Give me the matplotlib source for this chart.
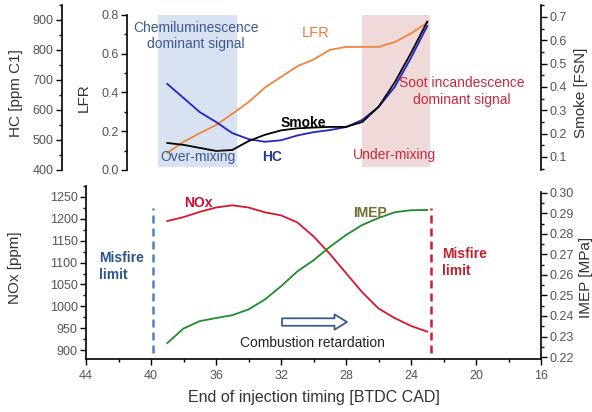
import matplotlib.pyplot as plt
from matplotlib.ticker import MultipleLocator, FormatStrFormatter

plt.rcParams['font.family'] = ['Liberation Sans', 'DejaVu Sans']

# end of injection timing [deg BTDC]
eoi = [39, 38, 37, 36, 35, 34, 33, 32, 31, 30, 29, 28, 27, 26, 25, 24, 23]

# top panel: emissions and flame luminosity
hc = [687, 640, 593, 560, 523, 503, 494, 499, 515, 526, 533, 543, 567, 610, 677, 774, 880]
smoke = [0.160, 0.152, 0.139, 0.126, 0.130, 0.168, 0.195, 0.214, 0.223, 0.226,
         0.229, 0.229, 0.250, 0.315, 0.420, 0.546, 0.680]
lfr = [0.088, 0.145, 0.190, 0.232, 0.290, 0.350, 0.425, 0.480, 0.535, 0.570,
       0.620, 0.635, 0.635, 0.635, 0.660, 0.705, 0.760]

# bottom panel: NOx and IMEP
nox = [1195, 1204, 1216, 1226, 1231, 1226, 1215, 1208, 1192, 1160, 1120, 1076, 1032, 995, 973, 955, 942]
imep = [0.2268, 0.2339, 0.2375, 0.2390, 0.2404, 0.2432, 0.2480, 0.2545, 0.2617, 0.2672,
        0.2737, 0.2795, 0.2844, 0.2878, 0.2906, 0.2916, 0.2917]

chemi_region = (39.55, 34.7)
soot_region = (27.0, 22.85)
misfire_early = 39.9
misfire_late = 22.8

TICK_COL = '#555555'
LABEL_COL = '#333333'


def style_ticks(ax, axis='y'):
    ax.tick_params(axis=axis, which='major', direction='out', length=4, width=1,
                   labelsize=9, labelcolor=TICK_COL, pad=2)
    ax.tick_params(axis=axis, which='minor', direction='out', length=2.2, width=1)


fig = plt.figure(figsize=(5.92, 4.12), dpi=100)

# ---------------- top panel ----------------
ax_lfr = fig.add_axes([0.1453, 0.5874, 0.7686, 0.4005])
ax_lfr.set_xlim(44, 16)
ax_lfr.set_ylim(0, 0.8516)
for s in ['top', 'right', 'bottom']:
    ax_lfr.spines[s].set_visible(False)
ax_lfr.spines['left'].set_position(('data', 41.48))
ax_lfr.spines['left'].set_bounds(0, 0.8)
ax_lfr.spines['left'].set_linewidth(1.2)
ax_lfr.tick_params(axis='x', which='both', bottom=False, labelbottom=False)
ax_lfr.yaxis.set_major_locator(MultipleLocator(0.2))
ax_lfr.yaxis.set_minor_locator(MultipleLocator(0.1))
ax_lfr.yaxis.set_major_formatter(FormatStrFormatter('%.1f'))
style_ticks(ax_lfr)
ax_lfr.set_ylabel('LFR', fontsize=11, color=LABEL_COL)
ax_lfr.yaxis.set_label_coords(0.011, 0.44)

ax_lfr.axvspan(*chemi_region, ymin=0.018, ymax=0.939, color='#d9e2f0', lw=0, zorder=0)
ax_lfr.axvspan(*soot_region, ymin=0.018, ymax=0.939, color='#efd9d9', lw=0, zorder=0)
ax_lfr.plot(eoi, lfr, color='#f0843f', lw=1.3)

ax_hc = ax_lfr.twinx()
ax_hc.set_ylim(400, 950)
for s in ['top', 'right', 'bottom']:
    ax_hc.spines[s].set_visible(False)
ax_hc.spines['left'].set_visible(True)
ax_hc.spines['left'].set_position(('axes', -0.053))
ax_hc.spines['left'].set_linewidth(1.2)
ax_hc.yaxis.tick_left()
ax_hc.yaxis.set_label_position('left')
ax_hc.yaxis.set_major_locator(MultipleLocator(100))
ax_hc.yaxis.set_minor_locator(MultipleLocator(50))
style_ticks(ax_hc)
ax_hc.set_ylabel('HC [ppm C1]', fontsize=11, color=LABEL_COL)
ax_hc.yaxis.set_label_coords(-0.138, 0.467)
ax_hc.plot(eoi, hc, color='#2323c8', lw=1.3)

ax_smoke = ax_lfr.twinx()
ax_smoke.set_ylim(0.0443, 0.7514)
for s in ['top', 'left', 'bottom']:
    ax_smoke.spines[s].set_visible(False)
ax_smoke.spines['right'].set_linewidth(1.2)
ax_smoke.yaxis.set_major_locator(MultipleLocator(0.1))
ax_smoke.yaxis.set_minor_locator(MultipleLocator(0.05))
ax_smoke.yaxis.set_major_formatter(FormatStrFormatter('%.1f'))
style_ticks(ax_smoke)
ax_smoke.set_ylabel('Smoke [FSN]', fontsize=11, color=LABEL_COL)
ax_smoke.yaxis.set_label_coords(1.0725, 0.467)
ax_smoke.plot(eoi, smoke, color='black', lw=1.3)

# annotations (LFR data units)
ax_smoke.text(37.26, 0.692, 'Chemiluminescence\ndominant signal', transform=ax_lfr.transData,
              ha='center', va='center', fontsize=10, color='#3c5a92', linespacing=1.25)
ax_smoke.text(37.08, 0.067, 'Over-mixing', transform=ax_lfr.transData,
              ha='center', va='center', fontsize=10, color='#3c5a92')
ax_smoke.text(32.55, 0.067, 'HC', transform=ax_lfr.transData,
              ha='center', va='center', fontsize=10, color='#1f3d8a', fontweight='bold')
ax_smoke.text(30.65, 0.243, 'Smoke', transform=ax_lfr.transData,
              ha='center', va='center', fontsize=10, color='black', fontweight='bold')
ax_smoke.text(29.9, 0.707, 'LFR', transform=ax_lfr.transData,
              ha='center', va='center', fontsize=10.5, color='#f07a3a')
ax_smoke.text(20.86, 0.405, 'Soot incandescence\ndominant signal', transform=ax_lfr.transData,
              ha='center', va='center', fontsize=10, color='#c8283c', linespacing=1.25)
ax_smoke.text(25.05, 0.077, 'Under-mixing', transform=ax_lfr.transData,
              ha='center', va='center', fontsize=10, color='#c8283c')

# ---------------- bottom panel ----------------
ax_nox = fig.add_axes([0.1453, 0.1286, 0.7686, 0.42])
ax_nox.set_xlim(44, 16)
ax_nox.set_ylim(879.4, 1275.2)
for s in ['top', 'right']:
    ax_nox.spines[s].set_visible(False)
for s in ['left', 'bottom']:
    ax_nox.spines[s].set_linewidth(1.2)
ax_nox.xaxis.set_major_locator(MultipleLocator(4))
ax_nox.xaxis.set_minor_locator(MultipleLocator(2))
ax_nox.yaxis.set_major_locator(MultipleLocator(50))
ax_nox.yaxis.set_minor_locator(MultipleLocator(25))
style_ticks(ax_nox, 'both')
ax_nox.tick_params(axis='x', which='major', pad=4)
ax_nox.set_ylabel('NOx [ppm]', fontsize=11, color=LABEL_COL)
ax_nox.yaxis.set_label_coords(-0.14, 0.526)
ax_nox.set_xlabel('End of injection timing [BTDC CAD]', fontsize=11.5, color=LABEL_COL)
ax_nox.xaxis.set_label_coords(0.5, -0.179)

ax_nox.plot(eoi, nox, color='#d4182b', lw=1.3)
ax_nox.vlines(misfire_early, 893, 1225, color='#4f81bd', lw=1.8, linestyles=(0, (3.2, 2.0)))
ax_nox.vlines(misfire_late, 893, 1225, color='#c8202a', lw=1.8, linestyles=(0, (3.2, 2.0)))

ax_imep = ax_nox.twinx()
ax_imep.set_ylim(0.21902, 0.30341)
for s in ['top', 'left', 'bottom']:
    ax_imep.spines[s].set_visible(False)
ax_imep.spines['right'].set_linewidth(1.2)
ax_imep.spines['right'].set_bounds(0.21902, 0.3005)
ax_imep.yaxis.set_major_locator(MultipleLocator(0.01))
ax_imep.yaxis.set_minor_locator(MultipleLocator(0.005))
ax_imep.yaxis.set_major_formatter(FormatStrFormatter('%.2f'))
style_ticks(ax_imep)
ax_imep.set_ylabel('IMEP [MPa]', fontsize=11, color=LABEL_COL)
ax_imep.yaxis.set_label_coords(1.0835, 0.474)
ax_imep.plot(eoi, imep, color='#1f8c2a', lw=1.3)

# annotations (NOx data units)
ax_imep.text(37.1, 1236, 'NOx', transform=ax_nox.transData, ha='center', va='center',
             fontsize=10, color='#c8102e', fontweight='bold')
ax_imep.text(26.52, 1213, 'IMEP', transform=ax_nox.transData, ha='center', va='center',
             fontsize=10, color='#6f6f32', fontweight='bold')
ax_imep.text(43.2, 1091, 'Misfire\nlimit', transform=ax_nox.transData, ha='left', va='center',
             fontsize=10, color='#2f528f', fontweight='bold', linespacing=1.2)
ax_imep.text(22.09, 1100, 'Misfire\nlimit', transform=ax_nox.transData, ha='left', va='center',
             fontsize=10, color='#c0202a', fontweight='bold', linespacing=1.2)
ax_imep.text(30.09, 916, 'Combustion retardation', transform=ax_nox.transData,
             ha='center', va='center', fontsize=10, color='#222222')
ax_imep.annotate('', xy=(27.94, 964), xytext=(31.94, 964),
                 xycoords=ax_nox.transData, textcoords=ax_nox.transData,
                 arrowprops=dict(arrowstyle='simple,head_length=0.45,head_width=0.55,tail_width=0.27',
                                 mutation_scale=20, fc='white', ec='#3a5c94', lw=1.3,
                                 shrinkA=0, shrinkB=0))

fig.savefig('out.png', dpi=100)
